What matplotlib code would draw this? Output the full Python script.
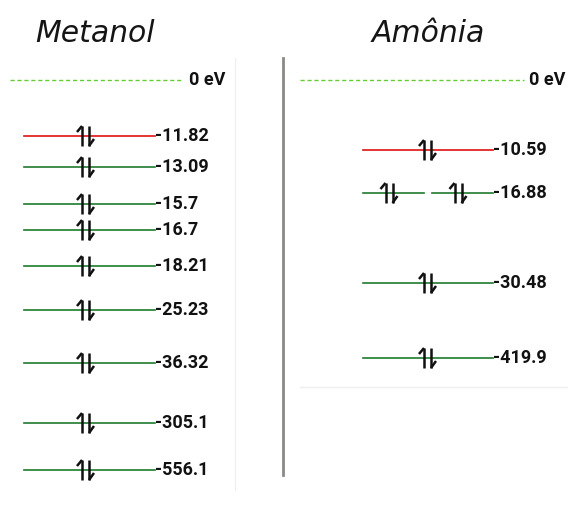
import matplotlib.pyplot as plt

# Energias dos orbitais (eV) e posicao esquematica no diagrama (0 = nivel 0 eV)
metanol_energias = ['-11.82', '-13.09', '-15.7', '-16.7', '-18.21', '-25.23', '-36.32', '-305.1', '-556.1']
metanol_nivel = [56, 87, 124, 150, 186, 230, 283, 343, 390]
metanol_cores = ['#e01010', '#1e7a2e', '#1e7a2e', '#1e7a2e', '#1e7a2e', '#1e7a2e', '#1e7a2e', '#1e7a2e', '#1e7a2e']

amonia_energias = ['-10.59', '-16.88', '-30.48', '-419.9']
amonia_nivel = [70, 113, 203, 278]
amonia_degenerado = [1, 2, 1, 1]
amonia_cores = ['#e01010', '#1e7a2e', '#1e7a2e', '#1e7a2e']

titulos = ['Metanol', 'Amônia']
y0 = 80  # posicao do nivel 0 eV

fig = plt.figure(figsize=(5.68, 5.11), dpi=100)
ax = fig.add_axes((0, 0, 1, 1))
ax.set_xlim(0, 568)
ax.set_ylim(511, 0)
ax.axis('off')

lab = dict(family=['Roboto', 'DejaVu Sans'], fontweight='bold', fontstretch='condensed',
           fontsize=13, va='center', ha='left', color='#111111')


def eletrons(xc, y):
    # par de eletrons (harpoons para cima e para baixo)
    k = dict(color='#111111', lw=1.8, solid_capstyle='butt')
    ax.plot([xc - 4, xc - 4], [y + 10, y - 10], **k)
    ax.plot([xc - 4, xc - 9], [y - 10, y - 4], **k)
    ax.plot([xc + 3, xc + 3], [y - 10, y + 10], **k)
    ax.plot([xc + 3, xc + 8], [y + 10, y + 3], **k)


# titulos
ax.text(95, 34, titulos[0], fontsize=21.5, style='italic', ha='center', va='center', color='#151515')
ax.text(428, 34, titulos[1], fontsize=21.5, style='italic', ha='center', va='center', color='#151515')

# separadores
ax.plot([283, 283], [58, 475], color='#8a8a85', lw=2)
ax.plot([235, 235], [58, 490], color='#f0f0f0', lw=1)
ax.plot([300, 568], [387, 387], color='#eeeeee', lw=1)

# linha 0 eV
ax.plot([10, 183], [y0, y0], color='#66cc33', lw=1, ls=(0, (3, 2)))
ax.text(189, y0, '0 eV', **lab)
ax.plot([300, 524], [y0, y0], color='#66cc33', lw=1, ls=(0, (3, 2)))
ax.text(529, y0, '0 eV', **lab)

# Metanol
for e, n, c in zip(metanol_energias, metanol_nivel, metanol_cores):
    y = y0 + n
    ax.plot([24, 155], [y, y], color=c, lw=1.2)
    eletrons(86, y)
    ax.text(155, y, e, **lab)

# Amonia
for e, n, d, c in zip(amonia_energias, amonia_nivel, amonia_degenerado, amonia_cores):
    y = y0 + n
    if d == 1:
        ax.plot([363, 493], [y, y], color=c, lw=1.2)
        eletrons(428, y)
    else:
        for xa, xb in [(363, 424), (432, 493)]:
            ax.plot([xa, xb], [y, y], color=c, lw=1.2)
            eletrons((xa + xb) / 2 - 4, y)
    ax.text(493, y, e, **lab)

fig.savefig('out.png', dpi=100)
